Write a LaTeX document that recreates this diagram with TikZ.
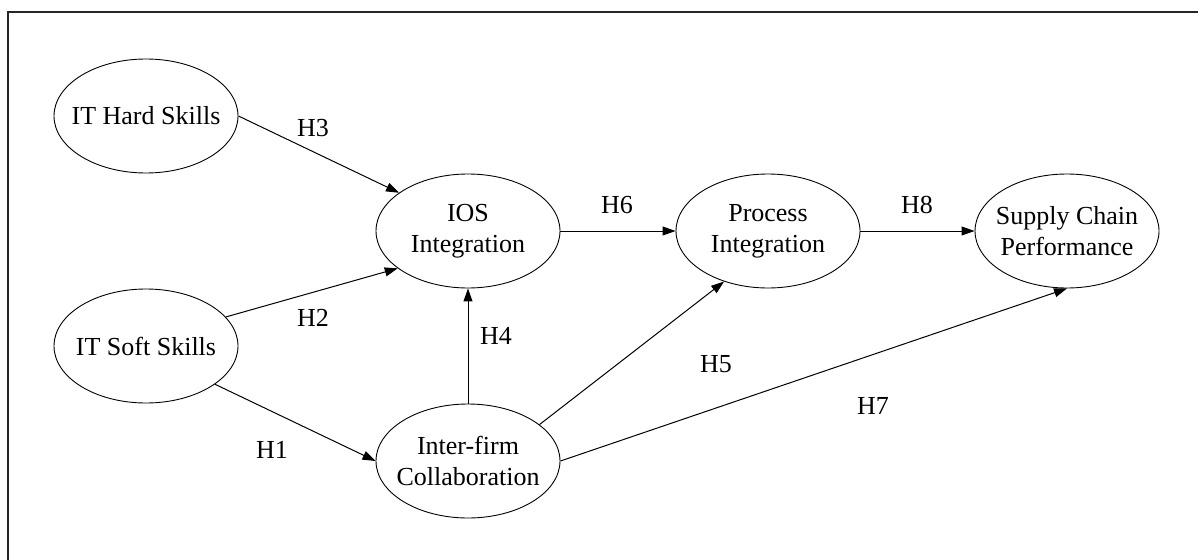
\documentclass[tikz,border=0pt]{standalone}
\usepackage{fontspec}
\setmainfont{Liberation Serif}
\usetikzlibrary{shapes.geometric,arrows.meta}
\begin{document}
\begin{tikzpicture}[x=1pt,y=-1pt,
  construct/.style={draw,ellipse,line width=0.9pt,minimum width=184pt,minimum height=114pt,
    inner sep=0pt,label={[caption]center:#1}},
  caption/.style={align=center,inner sep=0pt,font=\fontsize{26}{31}\selectfont},
  hyp/.style={font=\fontsize{26}{31}\selectfont,inner sep=0pt},
  path/.style={line width=1pt,-{Triangle[length=13pt,width=9pt]}}]
\useasboundingbox (0,0) rectangle (1198,559);
% outer frame (only its top and left sides fall inside the page)
\draw[line width=1.6pt,black!85] (1210,12) -- (8,12) -- (8,570);

% constructs
\node[construct={IT Hard Skills}] (hard) at (146,116) {};
\node[construct={IT Soft Skills}] (soft) at (146,346) {};
\node[construct={IOS\\Integration}] (ios) at (468,231) {};
\node[construct={Inter-firm\\Collaboration}] (inter) at (468,461) {};
\node[construct={Process\\Integration}] (proc) at (768,231) {};
\node[construct={Supply Chain\\Performance}] (scp) at (1067,231) {};

% hypothesised paths
\draw[path] (hard.east) -- (ios.151);
\draw[path] (soft.20) -- (ios.208);
\draw[path] (soft.331) -- (inter.west);
\draw[path] (inter.north) -- (ios.south);
\draw[path] (inter.27) -- (proc.229);
\draw[path] (inter.east) -- (scp.south);
\draw[path] (ios.east) -- (proc.west);
\draw[path] (proc.east) -- (scp.west);

% path labels
\node[hyp] (h3) at (313,128) {H3};
\node[hyp] (h2) at (313,318) {H2};
\node[hyp] (h1) at (272,450) {H1};
\node[hyp] (h4) at (496,336) {H4};
\node[hyp] (h5) at (716,364) {H5};
\node[hyp] (h7) at (873,406) {H7};
\node[hyp] (h6) at (617,205) {H6};
\node[hyp] (h8) at (917,205) {H8};
\end{tikzpicture}
\end{document}
